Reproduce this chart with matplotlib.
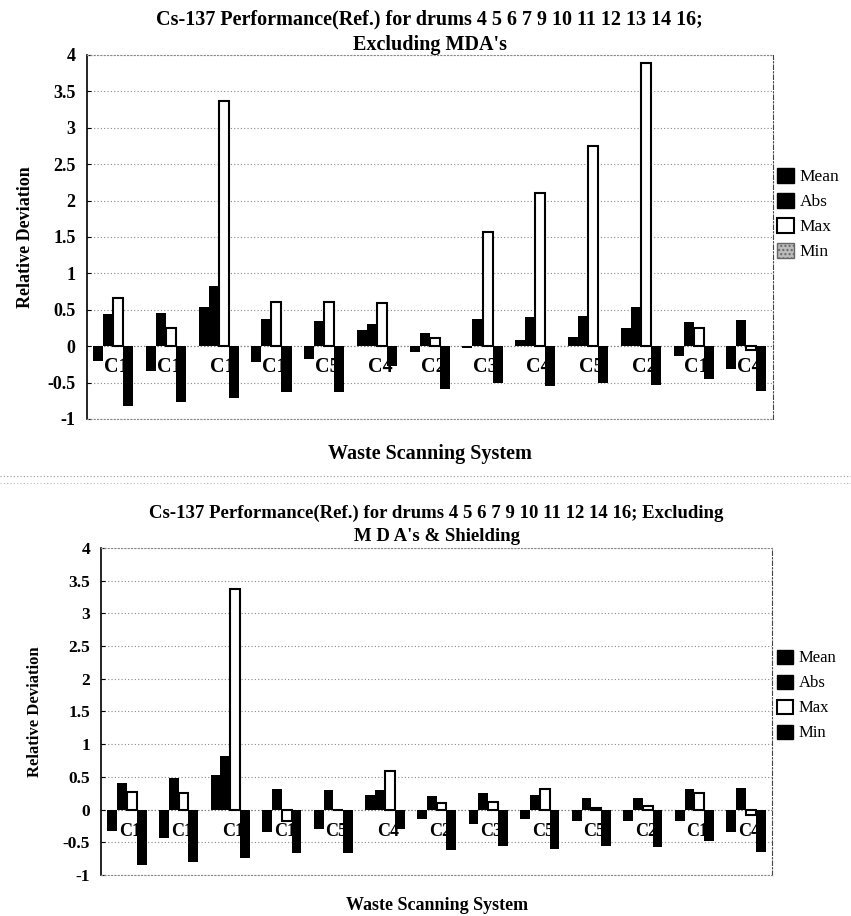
import matplotlib
matplotlib.use("Agg")
import matplotlib.pyplot as plt
import numpy as np
from matplotlib.patches import Patch

plt.rcParams['font.family'] = ['Liberation Serif', 'DejaVu Serif']

# ---- data ----
cats_top = ['C1', 'C1', 'C1', 'C1', 'C5', 'C4', 'C2', 'C3', 'C4', 'C5', 'C2', 'C1', 'C4']
mean_top = [-0.21, -0.34, 0.54, -0.22, -0.18, 0.22, -0.08, -0.03, 0.08, 0.13, 0.25, -0.14, -0.32]
abs_top = [0.44, 0.46, 0.82, 0.37, 0.34, 0.30, 0.18, 0.38, 0.40, 0.42, 0.54, 0.33, 0.36]
max_top = [0.66, 0.25, 3.37, 0.61, 0.60, 0.59, 0.11, 1.57, 2.11, 2.75, 3.89, 0.25, -0.05]
min_top = [-0.82, -0.77, -0.71, -0.63, -0.63, -0.27, -0.59, -0.51, -0.55, -0.51, -0.54, -0.45, -0.62]

cats_bot = ['C1', 'C1', 'C1', 'C1', 'C5', 'C4', 'C2', 'C3', 'C5', 'C5', 'C2', 'C1', 'C4']
mean_bot = [-0.33, -0.44, 0.53, -0.34, -0.29, 0.22, -0.14, -0.22, -0.15, -0.18, -0.17, -0.17, -0.34]
abs_bot = [0.40, 0.49, 0.82, 0.32, 0.30, 0.30, 0.20, 0.26, 0.23, 0.18, 0.18, 0.32, 0.33]
max_bot = [0.27, 0.26, 3.37, -0.17, 0.0, 0.59, 0.10, 0.12, 0.31, 0.03, 0.05, 0.25, -0.09]
min_bot = [-0.85, -0.80, -0.74, -0.67, -0.67, -0.29, -0.62, -0.56, -0.60, -0.56, -0.57, -0.48, -0.65]

series_names = ['Mean', 'Abs', 'Max', 'Min']
yticks = [4, 3.5, 3, 2.5, 2, 1.5, 1, 0.5, 0, -0.5, -1]

fig = plt.figure(figsize=(8.51, 9.16), dpi=100)


def draw(ax, cats, series, label_y, label_size, label_weight, tick_size):
    x = np.arange(len(cats))
    w = 0.19
    offs = [-1.5 * w, -0.5 * w, 0.5 * w, 1.5 * w]
    styles = [dict(color='black'), dict(color='black'),
              dict(facecolor='white', edgecolor='black', linewidth=1.5),
              dict(color='black')]
    for vals, off, st in zip(series, offs, styles):
        ax.bar(x + off, vals, width=w, zorder=3, **st)
    for xi, c in zip(x, cats):
        ax.text(xi + 0.06, label_y, c, ha='center', va='center', fontsize=label_size,
                fontweight=label_weight, zorder=2)
    ax.set_xlim(-0.5, len(cats) - 0.5)
    ax.set_ylim(-1, 4)
    ax.set_yticks(yticks)
    ax.set_yticklabels([('%g' % v) for v in yticks], fontsize=tick_size, fontweight='bold')
    ax.set_xticks([])
    ax.grid(axis='y', linestyle=(0, (1, 2)), color='#888888', linewidth=0.8, zorder=0)
    ax.axhline(0, linestyle=(0, (1, 2)), color='#555555', linewidth=0.8, zorder=1)
    ax.spines['left'].set_color('black')
    ax.spines['left'].set_linewidth(1.2)
    for s in ['top', 'bottom']:
        ax.spines[s].set_linestyle((0, (1, 2)))
        ax.spines[s].set_color('#888888')
    ax.spines['right'].set_linestyle((0, (4, 2, 1, 2)))
    ax.spines['right'].set_color('#444444')
    ax.tick_params(axis='y', length=3, direction='in', pad=8)


# ---- top chart ----
ax1 = fig.add_axes([0.102, 0.5426, 0.806, 0.3974])
draw(ax1, cats_top, [mean_top, abs_top, max_top, min_top], -0.29, 14.5, 'bold', 13)
ax1.set_title("Cs-137 Performance(Ref.) for drums 4 5 6 7 9 10 11 12 13 14 16;\nExcluding MDA's",
              fontsize=14.5, fontweight='bold', pad=3, linespacing=1.35)
ax1.set_ylabel('Relative Deviation', fontsize=13, fontweight='bold', labelpad=10)
ax1.set_xlabel('Waste Scanning System', fontsize=14.5, fontweight='bold', labelpad=18)
h1 = [Patch(facecolor='black', edgecolor='black'),
      Patch(facecolor='black', edgecolor='black'),
      Patch(facecolor='white', edgecolor='black', linewidth=1.5),
      Patch(facecolor='#bbbbbb', edgecolor='#666666', hatch='....')]
fig.legend(h1, series_names, loc='upper left', bbox_to_anchor=(0.905, 0.824),
           frameon=False, fontsize=12.5, handlelength=1.0, handleheight=0.9,
           handletextpad=0.3, labelspacing=0.45, borderaxespad=0)

# separator
fig.add_artist(plt.Line2D([0.0, 1.0], [0.480, 0.480], transform=fig.transFigure,
                          linestyle=(0, (1, 2)), color='#999999', linewidth=0.8))
fig.add_artist(plt.Line2D([0.0, 1.0], [0.473, 0.473], transform=fig.transFigure,
                          linestyle=(0, (1, 2)), color='#bbbbbb', linewidth=0.8))

# ---- bottom chart ----
ax2 = fig.add_axes([0.119, 0.0448, 0.788, 0.357])
draw(ax2, cats_bot, [mean_bot, abs_bot, max_bot, min_bot], -0.34, 13, 'bold', 12.5)
ax2.set_title("Cs-137 Performance(Ref.) for drums 4 5 6 7 9 10 11 12 14 16; Excluding\nM D A's & Shielding",
              fontsize=13.5, fontweight='bold', pad=5, linespacing=1.45)
ax2.set_ylabel('Relative Deviation', fontsize=12, fontweight='bold', labelpad=14)
ax2.set_xlabel('Waste Scanning System', fontsize=13, fontweight='bold', labelpad=16)
h2 = [Patch(facecolor='black', edgecolor='black'),
      Patch(facecolor='black', edgecolor='black'),
      Patch(facecolor='white', edgecolor='black', linewidth=1.5),
      Patch(facecolor='black', edgecolor='black')]
fig.legend(h2, series_names, loc='upper left', bbox_to_anchor=(0.905, 0.298),
           frameon=False, fontsize=12, handlelength=1.0, handleheight=0.9,
           handletextpad=0.3, labelspacing=0.5, borderaxespad=0)

fig.savefig('out.png', dpi=100)
